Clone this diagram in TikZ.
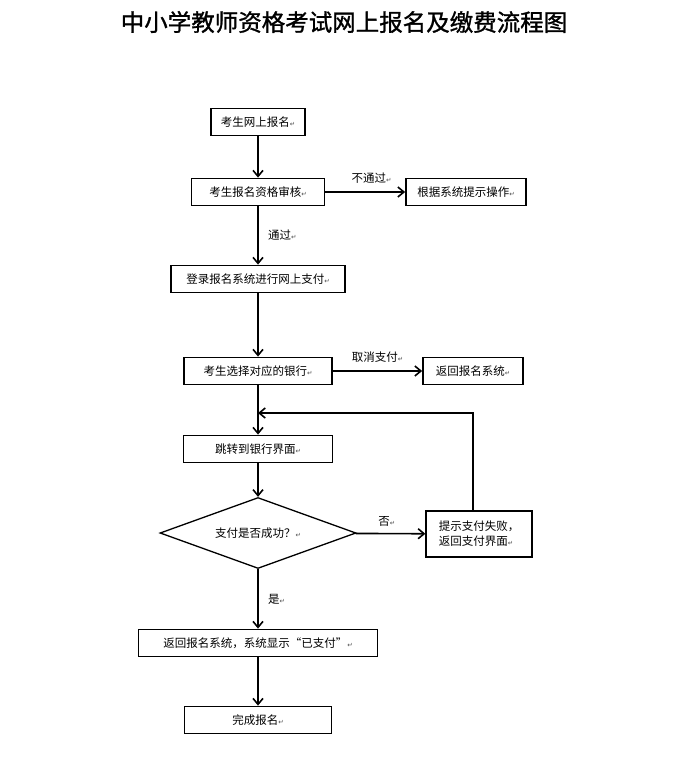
\documentclass[tikz,border=0pt]{standalone}
\usepackage{fontspec}
\usetikzlibrary{shapes.geometric,arrows.meta}
\setmainfont{Noto Sans CJK SC}
\newfontfamily\retfont{DejaVu Sans}
\newfontfamily\titlefont[FakeBold=1.2]{Noto Sans CJK SC}
\newcommand\boxsize{\fontsize{11.5}{15}\selectfont}
\newcommand\titlesize{\titlefont\fontsize{23.5}{26}\selectfont}
\newcommand\retmark{{\retfont\fontsize{6.5}{6.5}\selectfont\color{black!70}↵}}

\begin{document}
\begin{tikzpicture}[x=1pt, y=-1pt,
    box/.style={draw, line width=1.8pt, minimum height=27pt, inner sep=2pt, font=\boxsize},
    decision/.style={draw, diamond, line width=1.3pt, aspect=2.76, minimum width=196pt, minimum height=71pt, inner sep=0pt, font=\boxsize},
    flow/.style={-{Straight Barb[length=6pt,width=10pt]}, line width=1.6pt},
    lbl/.style={font=\boxsize}]
    \useasboundingbox (0,0) rectangle (689,773);

    % Title
    \node[font=\titlesize] (title) at (344,22) {中小学教师资格考试网上报名及缴费流程图};

    % Main column
    \node[box, minimum width=94pt] (signup) at (258,122) {考生网上报名\retmark};
    \node[box, minimum width=133pt] (audit) at (258,192) {考生报名资格审核\retmark};
    \node[box, minimum width=120pt] (hint) at (466,192) {根据系统提示操作\retmark};
    \node[box, minimum width=174pt] (login) at (258,279) {登录报名系统进行网上支付\retmark};
    \node[box, minimum width=148pt] (bank) at (258,371) {考生选择对应的银行\retmark};
    \node[box, minimum width=100pt] (back) at (473,371) {返回报名系统\retmark};
    \coordinate (join) at (258,413);
    \node[box, minimum width=149pt] (jump) at (258,449) {跳转到银行界面\retmark};
    \node[decision] (paid) at (258,533) {支付是否成功？\retmark};
    \node[box, line width=1.3pt, minimum width=106pt, minimum height=46pt, align=left] (fail) at (479,534) {提示支付失败，\\返回支付界面\retmark};
    \node[box, minimum width=239pt] (shown) at (258,643) {返回报名系统，系统显示“已支付”\retmark};
    \node[box, minimum width=147pt] (finish) at (258,720) {完成报名\retmark};

    % Connectors
    \draw[flow] (signup) -- (audit);
    \draw[flow] (audit) -- node[lbl, above=4pt, pos=0.58] {不通过\retmark} (hint);
    \draw[flow] (audit) -- node[lbl, right=6pt] {通过\retmark} (login);
    \draw[flow] (login) -- (bank);
    \draw[flow] (bank) -- node[lbl, above=4pt] {取消支付\retmark} (back);
    \draw[flow] (bank) -- (jump);
    \draw[flow] ([xshift=-6pt]fail.north) |- (join);
    \draw[flow] (jump) -- (paid);
    \draw[flow] (paid) -- node[lbl, above=3pt, pos=0.45] {否\retmark} (fail);
    \draw[flow] (paid) -- node[lbl, right=6pt] {是\retmark} (shown);
    \draw[flow] (shown) -- (finish);
\end{tikzpicture}
\end{document}
